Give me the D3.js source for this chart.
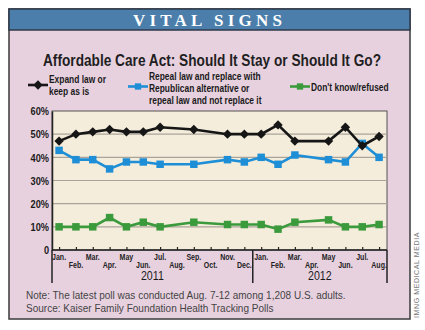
<!DOCTYPE html>
<html>
<head>
<meta charset="utf-8">
<script src="https://cdn.jsdelivr.net/npm/d3@7"></script>
<style>
  body { margin: 0; background: #fff; }
  svg text { font-family: "Liberation Sans", Arial, sans-serif; }
</style>
</head>
<body>
<div id="chart"></div>
<script>
// mesi sull'asse (gen 2011 - ago 2012)
const monthLabels = ["Jan.", "Feb.", "Mar.", "Apr.", "May", "Jun.", "Jul.", "Aug.", "Sep.", "Oct.", "Nov.", "Dec.",
                     "Jan.", "Feb.", "Mar.", "Apr.", "May", "Jun.", "Jul.", "Aug."];
const years = ["2011", "2012"];
// mesi in cui c'e' un sondaggio (indice nel monthLabels)
const pollMonths = [0, 1, 2, 3, 4, 5, 6, 8, 10, 11, 12, 13, 14, 16, 17, 18, 19];
const expandKeep = [47, 50, 51, 52, 51, 51, 53, 52, 50, 50, 50, 54, 47, 47, 53, 45, 49];
const repealReplace = [43, 39, 39, 35, 38, 38, 37, 37, 39, 38, 40, 37, 41, 39, 38, 46, 40];
const dontKnow = [10, 10, 10, 14, 10, 12, 10, 12, 11, 11, 11, 9, 12, 13, 10, 10, 11];
const yTicks = [0, 10, 20, 30, 40, 50, 60];

const W = 425, H = 330;
const colors = { expand: "#161616", repeal: "#1e8fd6", dk: "#3b9a3c" };

// il font condensato non c'e': stringo il testo in orizzontale
function condense(sel, k) {
    sel.each(function() {
        const w = this.getComputedTextLength();
        d3.select(this).attr("textLength", w * k).attr("lengthAdjust", "spacingAndGlyphs");
    });
    return sel;
}

const svg = d3.select("#chart").append("svg")
    .attr("width", W).attr("height", H);

// cornice e sfondo
svg.append("rect").attr("x", 9).attr("y", 9).attr("width", 401).attr("height", 310)
    .attr("fill", "#e8d1df").attr("stroke", "#3a3a3a").attr("stroke-width", 1.5);
svg.append("rect").attr("x", 9).attr("y", 9).attr("width", 401).attr("height", 21)
    .attr("fill", "#4b7eaa").attr("stroke", "#2e3a4a").attr("stroke-width", 1.5);
svg.append("text").attr("x", 210).attr("y", 26).attr("text-anchor", "middle")
    .style("font-family", "'Liberation Serif', 'DejaVu Serif', serif")
    .style("font-weight", "bold").style("font-size", "17px").style("letter-spacing", "5px")
    .attr("fill", "#fff").text("VITAL SIGNS")
    .attr("textLength", 154).attr("lengthAdjust", "spacing");

// titolo
svg.append("text").attr("x", 212).attr("y", 66).attr("text-anchor", "middle")
    .style("font-weight", "bold").style("font-size", "17.2px").attr("fill", "#1f1f1f")
    .text("Affordable Care Act: Should It Stay or Should It Go?")
    .attr("textLength", 338).attr("lengthAdjust", "spacingAndGlyphs");

// area del grafico
const margin = { left: 52, right: 387, top: 111, bottom: 250 };
const x = d3.scaleLinear().domain([-0.42, 19.47]).range([margin.left, margin.right]);
const y = d3.scaleLinear().domain([0, 60]).range([margin.bottom, margin.top]);

svg.append("rect").attr("x", margin.left).attr("y", margin.top)
    .attr("width", margin.right - margin.left).attr("height", margin.bottom - margin.top)
    .attr("fill", "#f5eddb").attr("stroke", "#555").attr("stroke-width", 1);

// griglia
svg.append("g").selectAll("line").data(yTicks.filter(d => d > 0 && d < 60)).join("line")
    .attr("x1", margin.left).attr("x2", margin.right)
    .attr("y1", d => y(d)).attr("y2", d => y(d))
    .attr("stroke", "#aaa39a").attr("stroke-width", 1.2);

// asse y
const yAxis = svg.append("g").attr("transform", `translate(${margin.left},0)`)
    .call(d3.axisLeft(y).tickValues(yTicks).tickSize(0).tickPadding(3)
        .tickFormat(d => d === 0 ? "0" : d + "%"));
yAxis.select(".domain").attr("stroke", "#222").attr("stroke-width", 1.5);
condense(yAxis.selectAll("text").style("font-family", "'Liberation Sans', sans-serif")
    .style("font-size", "11.5px").style("font-weight", "bold").attr("fill", "#1a1a1a"), 0.8);

// asse x: tacche verso l'interno
const xAxis = svg.append("g").attr("transform", `translate(0,${margin.bottom})`)
    .call(d3.axisBottom(x).tickValues(d3.range(monthLabels.length)).tickSize(-3).tickFormat(""));
xAxis.select(".domain").remove();
xAxis.selectAll(".tick line").attr("stroke", "#222").attr("stroke-width", 1.2);
svg.append("line").attr("x1", margin.left).attr("x2", margin.right)
    .attr("y1", margin.bottom).attr("y2", margin.bottom).attr("stroke", "#222").attr("stroke-width", 1.5);

condense(svg.append("g").selectAll("text").data(monthLabels).join("text")
    .attr("x", (d, i) => x(i))
    .attr("y", (d, i) => i % 2 === 0 ? 259.5 : 267.5)
    .attr("text-anchor", "middle")
    .style("font-size", "9px").style("font-weight", "bold").attr("fill", "#222")
    .text(d => d), 0.78);

// separatori anni
const dividers = [-0.42, 11.5, 19.47];
svg.append("g").selectAll("line").data(dividers).join("line")
    .attr("x1", d => x(d)).attr("x2", d => x(d))
    .attr("y1", margin.bottom).attr("y2", 283)
    .attr("stroke", "#222").attr("stroke-width", 1.5);
condense(svg.append("g").selectAll("text").data(years).join("text")
    .attr("x", (d, i) => (x(dividers[i]) + x(dividers[i + 1])) / 2)
    .attr("y", 280).attr("text-anchor", "middle")
    .style("font-size", "12.5px").attr("fill", "#1a1a1a")
    .text(d => d), 0.85);

// serie
const series = [
    { key: "dk", values: dontKnow, shape: "square" },
    { key: "repeal", values: repealReplace, shape: "square" },
    { key: "expand", values: expandKeep, shape: "diamond" }
];
const line = d3.line().x(d => x(d.m)).y(d => y(d.v));

series.forEach(s => {
    const pts = pollMonths.map((m, i) => ({ m: m, v: s.values[i] }));
    svg.append("path").datum(pts)
        .attr("d", line).attr("fill", "none")
        .attr("stroke", colors[s.key]).attr("stroke-width", 2.6);
    const sym = s.shape === "diamond"
        ? d3.symbol().type(d3.symbolSquare).size(44)
        : d3.symbol().type(d3.symbolSquare).size(56);
    svg.append("g").selectAll("path").data(pts).join("path")
        .attr("d", sym)
        .attr("transform", d => `translate(${x(d.m)},${y(d.v)})` + (s.shape === "diamond" ? " rotate(45)" : ""))
        .attr("fill", colors[s.key]);
});

// legenda
const legend = [
    { key: "expand", shape: "diamond", x: 28, ly: 85, lines: ["Expand law or", "keep as is"], ty: 83 },
    { key: "repeal", shape: "square", x: 128, ly: 86.5, lines: ["Repeal law and replace with", "Republican alternative or", "repeal law and not replace it"], ty: 79.5 },
    { key: "dk", shape: "square", x: 290, ly: 86.5, lines: ["Don't know/refused"], ty: 90.5 }
];
legend.forEach(l => {
    const g = svg.append("g").attr("transform", `translate(${l.x},${l.ly})`);
    g.append("line").attr("x1", 0).attr("x2", 20).attr("stroke", colors[l.key]).attr("stroke-width", 2.6);
    g.append("path")
        .attr("d", d3.symbol().type(d3.symbolSquare).size(l.shape === "diamond" ? 44 : 40))
        .attr("transform", `translate(10,0)` + (l.shape === "diamond" ? " rotate(45)" : ""))
        .attr("fill", colors[l.key]);
    condense(svg.append("g").selectAll("text").data(l.lines).join("text")
        .attr("x", l.x + 21).attr("y", (d, i) => l.ty + i * 12)
        .style("font-size", "10.5px").style("font-weight", "bold").attr("fill", "#1a1a1a")
        .text(d => d), 0.8);
});

// note
condense(svg.append("text").attr("x", 26).attr("y", 299)
    .style("font-size", "11.5px").attr("fill", "#444")
    .text("Note: The latest poll was conducted Aug. 7-12 among 1,208 U.S. adults."), 0.87);
condense(svg.append("text").attr("x", 26).attr("y", 312)
    .style("font-size", "11.5px").attr("fill", "#444")
    .text("Source: Kaiser Family Foundation Health Tracking Polls"), 0.87);

// credito
svg.append("text").attr("transform", "translate(419,318) rotate(-90)")
    .style("font-family", "'Liberation Sans', sans-serif").style("font-size", "7px")
    .style("letter-spacing", "0.6px").attr("fill", "#777")
    .text("IMNG MEDICAL MEDIA");
</script>
</body>
</html>
